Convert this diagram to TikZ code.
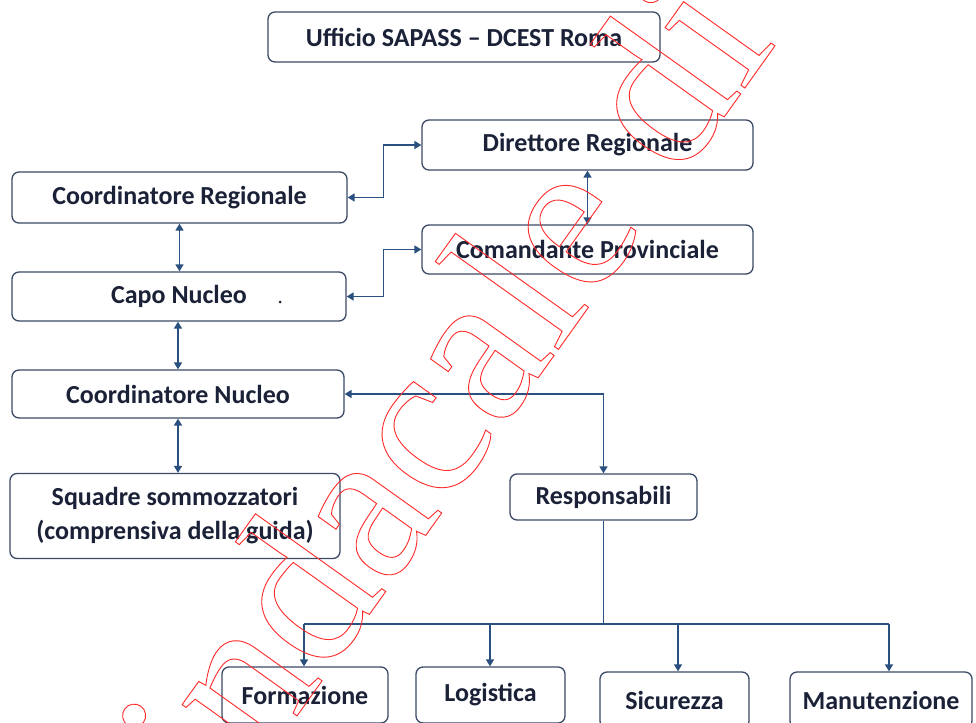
\documentclass[tikz,border=0pt]{standalone}
\usepackage{fontspec}
\setmainfont{Carlito}
\newfontfamily\wmfont{Liberation Serif}
\usetikzlibrary{arrows.meta}
\definecolor{txt}{HTML}{1B2238}
\definecolor{bord}{HTML}{3B4A66}
\definecolor{lnk}{HTML}{2A507F}
\definecolor{wm}{HTML}{FF2A2A}
\newcommand\wmstart{\special{pdf:literal direct 1 Tr 0.9 w}}
\newcommand\wmend{\special{pdf:literal direct 0 Tr}}
\begin{document}
\begin{tikzpicture}[x=1pt,y=-1pt,
  box/.style={draw=bord, line width=1.3pt, rounded corners=7pt, fill=white,
    text=txt, font=\fontsize{26}{34}\selectfont\bfseries, inner sep=0pt, align=center},
  link/.style={draw=lnk, line width=1.6pt},
  >={Triangle[length=7pt,width=8pt]}]
\fill[white] (0,0) rectangle (976,722);
\useasboundingbox (0,0) rectangle (976,722);

\node[box, minimum width=392pt, minimum height=50pt] (uff) at (464,37) {Ufficio SAPASS – DCEST Roma};
\node[box, minimum width=331pt, minimum height=50pt] (dir) at (587.5,145) {Direttore Regionale};
\node[box, minimum width=331pt, minimum height=49pt] (com) at (587.5,249.5) {Comandante Provinciale};
\node[box, minimum width=335pt, minimum height=51pt] (cr) at (179.5,197.5) {Coordinatore Regionale};
\node[box, minimum width=334pt, minimum height=49pt] (cap) at (179,296.5) {Capo Nucleo};
\node[box, minimum width=332pt, minimum height=48pt] (cn) at (178,394) {Coordinatore Nucleo};
\node[box, minimum width=330pt, minimum height=85pt] (sq) at (175,516) {Squadre sommozzatori\\(comprensiva della guida)};
\node[box, minimum width=187pt, minimum height=46pt] (resp) at (603.5,497) {Responsabili};
\node[box, minimum width=166pt, minimum height=56pt] (form) at (305,695) {Formazione};
\node[box, minimum width=149pt, minimum height=56pt] (log) at (490.5,695) {Logistica};
\node[box, minimum width=149pt, minimum height=56pt] (sic) at (674.5,700) {Sicurezza};
\node[box, minimum width=182pt, minimum height=56pt] (man) at (881,700) {Manutenzione};

\fill[txt] (280,302) circle (1.5pt);

\draw[link,<->] (cr.east) -- ++(36,0) |- (dir.west);
\draw[link,<->] (cap.east) -- ++(37,0) |- (com.west);
\draw[link,<->] (dir.south) -- (com.north);
\draw[link,<->] (cr.south) -- (cr.south |- cap.north);
\draw[link,<->] (cn.north |- cap.south) -- (cn.north);
\draw[link,<->] (cn.south) -- (cn.south |- sq.north);
\draw[link,<->] (cn.east) -| (resp.north);

\coordinate (hub) at (603.5,624);
\coordinate (d1) at (304,624);
\coordinate (d2) at (490,624);
\coordinate (d3) at (678,624);
\coordinate (d4) at (889,624);
\draw[link] (resp.south) -- (hub);
\draw[link] (d1) -- (d4);
\draw[link,->] (d1) -- (d1 |- form.north);
\draw[link,->] (d2) -- (d2 |- log.north);
\draw[link,->] (d3) -- (d3 |- sic.north);
\draw[link,->] (d4) -- (d4 |- man.north);

\begin{scope}
\node[rotate=54.5, anchor=base west, inner sep=0pt, text=wm,
  font=\wmfont\fontsize{218}{218}\selectfont] (wmk) at (155,915) {\wmstart Sindacale di\wmend};
\end{scope}
\end{tikzpicture}
\end{document}
